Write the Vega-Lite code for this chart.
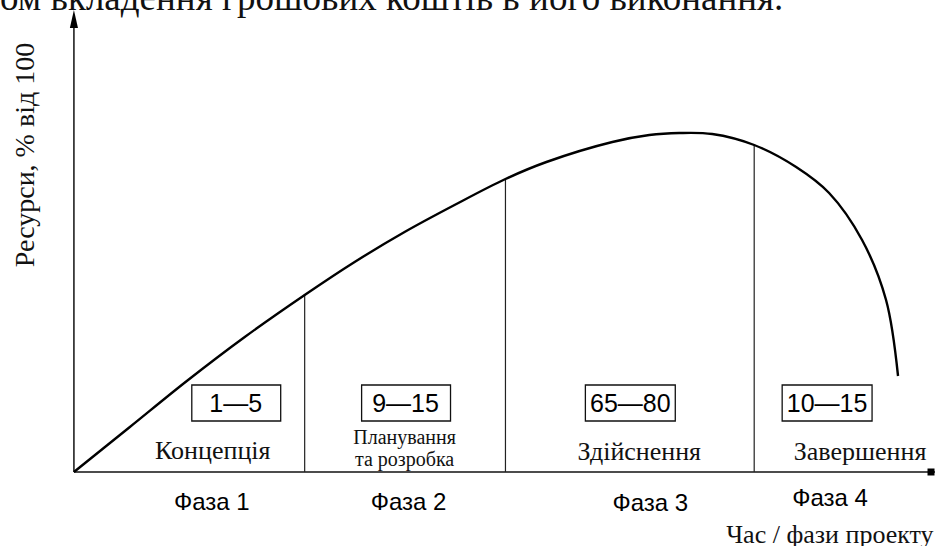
{
  "$schema": "https://vega.github.io/schema/vega-lite/v6.json",
  "width": 936,
  "height": 546,
  "autosize": {"type": "fit", "contains": "padding"},
  "padding": 0,
  "background": "white",
  "config": {"view": {"stroke": null}},
  "datasets": {
    "curve": [
      {"t": 0, "r": 0}, {"t": 5.6, "r": 4.5}, {"t": 11.3, "r": 9.1}, {"t": 17.1, "r": 13.5},
      {"t": 23.1, "r": 17.7}, {"t": 28.1, "r": 21.0}, {"t": 33.1, "r": 24.0}, {"t": 38.1, "r": 26.7},
      {"t": 43.2, "r": 29.3}, {"t": 47.3, "r": 31.0}, {"t": 53.9, "r": 33.0}, {"t": 57.6, "r": 33.7},
      {"t": 60.6, "r": 33.9}, {"t": 63.9, "r": 33.8}, {"t": 68.1, "r": 32.7}, {"t": 72.3, "r": 30.5},
      {"t": 75.6, "r": 27.9}, {"t": 78.9, "r": 23.2}, {"t": 81.3, "r": 17.2}, {"t": 82.5, "r": 9.6}
    ],
    "dividers": [
      {"t": 23.1, "top": 17.7}, {"t": 43.2, "top": 29.3}, {"t": 68.1, "top": 32.7}
    ],
    "axes": [
      {"axis": "x", "x0": 0, "x1": 86.2, "y0": 0, "y1": 0},
      {"axis": "y", "x0": 0, "x1": 0, "y0": 0, "y1": 44.6}
    ],
    "arrow": [{"t": 0, "r": 45.3}],
    "endmark": [{"t": 85.8, "r": 0}],
    "boxes": [
      {"share": "1—5", "x0": 11.8, "x1": 20.7, "y0": 5.1, "y1": 8.7, "tc": 16.2, "ty": 6.0},
      {"share": "9—15", "x0": 28.8, "x1": 37.7, "y0": 5.1, "y1": 8.7, "tc": 33.2, "ty": 6.0},
      {"share": "65—80", "x0": 51.2, "x1": 60.2, "y0": 5.1, "y1": 8.7, "tc": 55.7, "ty": 6.0},
      {"share": "10—15", "x0": 70.9, "x1": 79.9, "y0": 5.1, "y1": 8.7, "tc": 75.4, "ty": 6.0}
    ],
    "stages": [
      {"name": "Концепція", "t": 13.9, "r": 1.3},
      {"name": "Здійснення", "t": 56.6, "r": 1.2},
      {"name": "Завершення", "t": 78.7, "r": 1.2}
    ],
    "stage2": [
      {"name": "Планування", "t": 33.1, "r": 2.8},
      {"name": "та розробка", "t": 33.1, "r": 0.6}
    ],
    "phases": [
      {"name": "Фаза 1", "t": 13.8, "r": -3.8},
      {"name": "Фаза 2", "t": 33.5, "r": -3.8},
      {"name": "Фаза 3", "t": 57.7, "r": -3.9},
      {"name": "Фаза 4", "t": 75.7, "r": -3.4}
    ],
    "ytitle": [{"text": "Ресурси, % від 100", "t": -4.0, "r": 31.7}],
    "xtitle": [{"text": "Час / фази проекту", "t": 65.3, "r": -7.1}],
    "toptext": [{"text": "ом вкладення грошових коштів в його виконання.", "t": -7.4, "r": 46.2}]
  },
  "layer": [
    {
      "data": {"name": "axes"},
      "mark": {"type": "rule", "color": "#111", "strokeWidth": 1.5},
      "encoding": {
        "x": {"field": "x0", "type": "quantitative", "scale": {"domain": [-7.4, 86.2], "nice": false, "zero": false}, "axis": null},
        "x2": {"field": "x1"},
        "y": {"field": "y0", "type": "quantitative", "scale": {"domain": [-7.4, 47.2], "nice": false, "zero": false}, "axis": null},
        "y2": {"field": "y1"}
      }
    },
    {
      "data": {"name": "dividers"},
      "mark": {"type": "rule", "color": "#222", "strokeWidth": 1.2},
      "encoding": {
        "x": {"field": "t", "type": "quantitative"},
        "y": {"field": "top", "type": "quantitative"},
        "y2": {"datum": 0}
      }
    },
    {
      "data": {"name": "curve"},
      "mark": {"type": "line", "color": "#000", "strokeWidth": 2.4, "interpolate": "catmull-rom"},
      "encoding": {
        "x": {"field": "t", "type": "quantitative"},
        "y": {"field": "r", "type": "quantitative"}
      }
    },
    {
      "data": {"name": "arrow"},
      "mark": {"type": "point", "shape": "M0,-1L0.45,1L-0.45,1Z", "size": 324, "filled": true, "color": "#000", "opacity": 1},
      "encoding": {
        "x": {"field": "t", "type": "quantitative"},
        "y": {"field": "r", "type": "quantitative"}
      }
    },
    {
      "data": {"name": "endmark"},
      "mark": {"type": "point", "shape": "square", "size": 49, "filled": true, "color": "#000", "opacity": 1},
      "encoding": {
        "x": {"field": "t", "type": "quantitative"},
        "y": {"field": "r", "type": "quantitative"}
      }
    },
    {
      "data": {"name": "boxes"},
      "mark": {"type": "rect", "fill": "white", "stroke": "#111", "strokeWidth": 1.3},
      "encoding": {
        "x": {"field": "x0", "type": "quantitative"},
        "x2": {"field": "x1"},
        "y": {"field": "y0", "type": "quantitative"},
        "y2": {"field": "y1"}
      }
    },
    {
      "data": {"name": "boxes"},
      "mark": {"type": "text", "font": "Liberation Sans", "fontSize": 25, "align": "center", "baseline": "alphabetic", "color": "#000"},
      "encoding": {
        "x": {"field": "tc", "type": "quantitative"},
        "y": {"field": "ty", "type": "quantitative"},
        "text": {"field": "share"}
      }
    },
    {
      "data": {"name": "stages"},
      "mark": {"type": "text", "font": "Liberation Serif", "fontSize": 26, "align": "center", "baseline": "alphabetic", "color": "#111"},
      "encoding": {
        "x": {"field": "t", "type": "quantitative"},
        "y": {"field": "r", "type": "quantitative"},
        "text": {"field": "name"}
      }
    },
    {
      "data": {"name": "stage2"},
      "mark": {"type": "text", "font": "Liberation Serif", "fontSize": 20, "align": "center", "baseline": "alphabetic", "color": "#111"},
      "encoding": {
        "x": {"field": "t", "type": "quantitative"},
        "y": {"field": "r", "type": "quantitative"},
        "text": {"field": "name"}
      }
    },
    {
      "data": {"name": "phases"},
      "mark": {"type": "text", "font": "Liberation Sans", "fontSize": 24, "align": "center", "baseline": "alphabetic", "color": "#000"},
      "encoding": {
        "x": {"field": "t", "type": "quantitative"},
        "y": {"field": "r", "type": "quantitative"},
        "text": {"field": "name"}
      }
    },
    {
      "data": {"name": "ytitle"},
      "mark": {"type": "text", "font": "Liberation Serif", "fontSize": 28, "align": "center", "baseline": "alphabetic", "angle": 270, "color": "#111"},
      "encoding": {
        "x": {"field": "t", "type": "quantitative"},
        "y": {"field": "r", "type": "quantitative"},
        "text": {"field": "text"}
      }
    },
    {
      "data": {"name": "xtitle"},
      "mark": {"type": "text", "font": "Liberation Serif", "fontSize": 26, "align": "left", "baseline": "alphabetic", "color": "#111", "clip": true},
      "encoding": {
        "x": {"field": "t", "type": "quantitative"},
        "y": {"field": "r", "type": "quantitative"},
        "text": {"field": "text"}
      }
    },
    {
      "data": {"name": "toptext"},
      "mark": {"type": "text", "font": "Liberation Serif", "fontSize": 37, "align": "left", "baseline": "alphabetic", "color": "#111", "clip": true},
      "encoding": {
        "x": {"field": "t", "type": "quantitative"},
        "y": {"field": "r", "type": "quantitative"},
        "text": {"field": "text"}
      }
    }
  ]
}
